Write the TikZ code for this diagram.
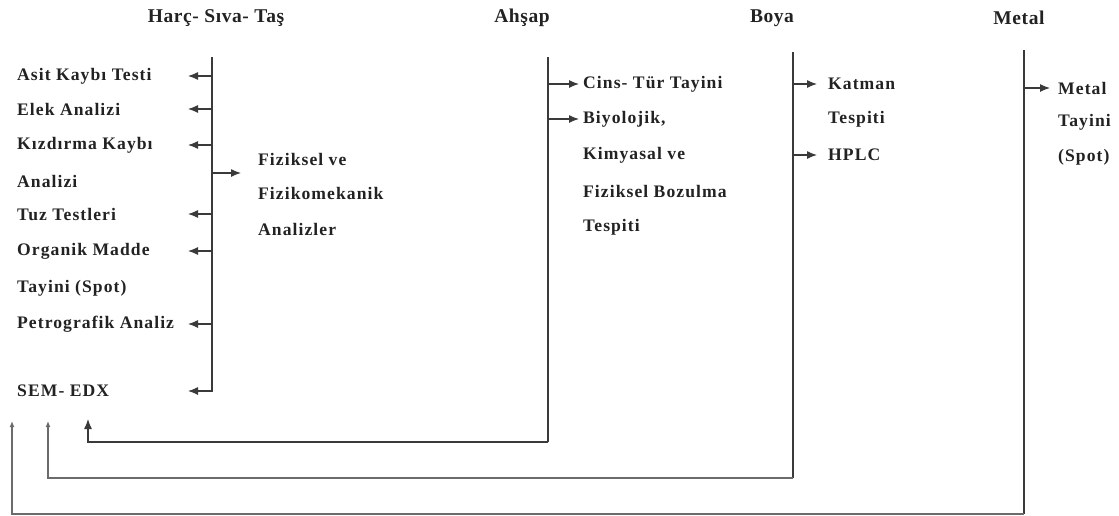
\documentclass[tikz,border=0pt]{standalone}
\usepackage{fontspec}
\setmainfont{Liberation Serif}
\usetikzlibrary{arrows.meta}
\definecolor{ink}{HTML}{222222}
\definecolor{ln}{HTML}{3A3A3A}
\tikzset{
  txt/.style={anchor=west,inner sep=0pt,text=ink,font=\fontsize{17.6}{19}\selectfont\bfseries\addfontfeature{LetterSpace=6}},
  ttl/.style={inner sep=0pt,text=ink,font=\fontsize{19.5}{21}\selectfont\bfseries\addfontfeature{LetterSpace=3}},
  ln/.style={draw=ln,line width=1.2pt},
  arr/.style={ln,-{Latex[length=10pt,width=8pt]}},
  arrs/.style={draw=ln!75,line width=1.2pt,-{Latex[length=6pt,width=5pt]}}
}
\begin{document}
\begin{tikzpicture}[x=1pt,y=-1pt]
\useasboundingbox (0,0) rectangle (1119,515);
% titles
\node[ttl] (t1) at (216,18) {Harç- Sıva- Taş};
\node[ttl] (t2) at (522,18) {Ahşap};
\node[ttl] (t3) at (772,18) {Boya};
\node[ttl] (t4) at (1019,18) {Metal};
% Harç column
\node[txt] (a1) at (17,76) {Asit Kaybı Testi};
\node[txt] (a2) at (17,109) {Elek Analizi};
\node[txt] (a3) at (17,145) {Kızdırma Kaybı};
\node[txt] (a3b) at (17,181) {Analizi};
\node[txt] (a4) at (17,214) {Tuz Testleri};
\node[txt] (a5) at (17,251) {Organik Madde};
\node[txt] (a5b) at (17,288) {Tayini (Spot)};
\node[txt] (a6) at (17,324) {Petrografik Analiz};
\node[txt] (a7) at (17,391) {SEM- EDX};
\node[txt] (f1) at (258,159) {Fiziksel ve};
\node[txt] (f2) at (258,193) {Fizikomekanik};
\node[txt] (f3) at (258,229) {Analizler};
\coordinate (h0) at (212,57);
\coordinate (hl) at (188,0);
\draw[arr] (h0) -- (h0|-a7) -- (hl|-a7);
\foreach \n in {a1,a2,a3,a4,a5,a6}{
  \draw[arr] (h0|-\n) -- (hl|-\n);
}
\draw[arr] (212,173) -- (241,173);
% Ahşap
\node[txt] (b1) at (583,84) {Cins- Tür Tayini};
\node[txt] (b2) at (583,119) {Biyolojik,};
\node[txt] (b2b) at (583,155) {Kimyasal ve};
\node[txt] (b2c) at (583,191) {Fiziksel Bozulma};
\node[txt] (b2d) at (583,227) {Tespiti};
\coordinate (ah0) at (548,57);
\coordinate (ah1) at (548,442);
\coordinate (ahe) at (88,419);
\draw[ln] (ah0) -- (ah1);
\draw[arr] (ah1) -- (ahe|-ah1) -- (ahe);
\draw[arr] (ah0|-b1) -- (579,84);
\draw[arr] (ah0|-b2) -- (579,119);
% Boya
\node[txt] (c1) at (828,84) {Katman};
\node[txt] (c1b) at (828,119) {Tespiti};
\node[txt] (c2) at (828,155) {HPLC};
\coordinate (bo0) at (793,52);
\coordinate (bo1) at (793,478);
\coordinate (boe) at (48,421);
\draw[ln] (bo0) -- (bo1);
\draw[arrs] (bo1) -- (boe|-bo1) -- (boe);
\draw[arr] (bo0|-c1) -- (817,84);
\draw[arr] (bo0|-c2) -- (817,155);
% Metal
\node[txt] (d1) at (1058,88) {Metal};
\node[txt] (d1b) at (1058,122) {Tayini};
\node[txt] (d1c) at (1058,157) {(Spot)};
\coordinate (me0) at (1024,50);
\coordinate (me1) at (1024,514);
\coordinate (mee) at (12,421);
\draw[ln] (me0) -- (me1);
\draw[arrs] (me1) -- (mee|-me1) -- (mee);
\draw[arr] (me0|-d1) -- (1050,88);
\end{tikzpicture}
\end{document}
